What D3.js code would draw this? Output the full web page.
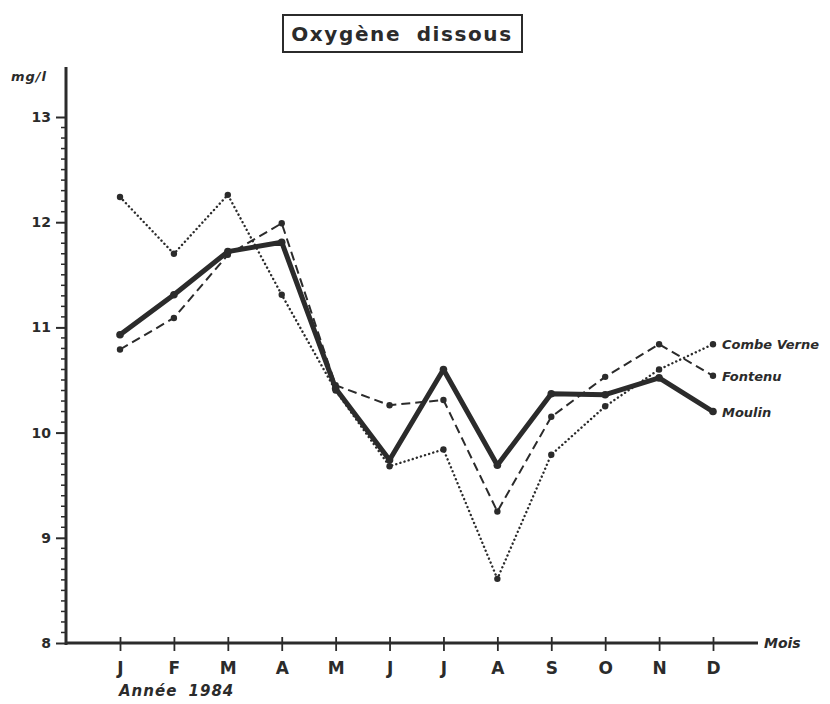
<!DOCTYPE html>
<html>
<head>
<meta charset="utf-8">
<script src="https://cdn.jsdelivr.net/npm/d3@7"></script>
<style>
  html, body { margin: 0; padding: 0; background: #fff; }
  svg { display: block; }
  text { fill: #2b2b2b; font-family: 'DejaVu Sans', sans-serif; }
</style>
</head>
<body>
<div id="chart"></div>
<script>
(function() {
  'use strict';

  // Month labels (Année 1984)
  const months = ['J', 'F', 'M', 'A', 'M', 'J', 'J', 'A', 'S', 'O', 'N', 'D'];
  const yTicks = [8, 9, 10, 11, 12, 13];

  // Dissolved oxygen, mg/l
  const combeVerne = [12.24, 11.70, 12.26, 11.31, 10.40, 9.68, 9.84, 8.61, 9.79, 10.25, 10.60, 10.84];
  const fontenu    = [10.79, 11.09, 11.69, 11.99, 10.45, 10.26, 10.31, 9.25, 10.15, 10.53, 10.84, 10.54];
  const moulin     = [10.93, 11.31, 11.72, 11.81, 10.42, 9.74, 10.60, 9.69, 10.37, 10.36, 10.52, 10.20];

  const seriesNames = ['Combe Verne', 'Fontenu', 'Moulin'];

  const ink = '#2b2b2b';
  const width = 830, height = 704;

  const svg = d3.select('#chart').append('svg')
    .attr('width', width)
    .attr('height', height);

  const x = d3.scalePoint()
    .domain(d3.range(months.length))
    .range([120, 713]);

  const y = d3.scaleLinear()
    .domain([8, 13])
    .range([643, 117]);

  // Title box
  svg.append('rect')
    .attr('x', 283).attr('y', 15)
    .attr('width', 239).attr('height', 37)
    .attr('fill', 'none')
    .attr('stroke', ink)
    .attr('stroke-width', 2);
  svg.append('text')
    .attr('x', 402).attr('y', 41)
    .attr('text-anchor', 'middle')
    .style('font-size', '20px')
    .style('font-weight', 'bold')
    .style('letter-spacing', '1.6px')
    .style('word-spacing', '7px')
    .text('Oxygène dissous');

  // Minor ticks every 0.1
  const minor = d3.range(80, 131).map(d => d / 10).filter(d => !yTicks.includes(d));
  svg.append('g')
    .selectAll('line')
    .data(minor)
    .enter()
    .append('line')
    .attr('x1', 61).attr('x2', 66)
    .attr('y1', d => y(d)).attr('y2', d => y(d))
    .attr('stroke', ink)
    .attr('stroke-width', 1.5);

  // Y axis
  const yAxis = d3.axisLeft(y)
    .tickValues(yTicks)
    .tickSize(10)
    .tickPadding(5)
    .tickFormat(d3.format('d'));
  const gy = svg.append('g')
    .attr('transform', 'translate(66,0)')
    .call(yAxis);
  gy.select('.domain').remove();
  gy.selectAll('.tick line').attr('stroke', ink).attr('stroke-width', 2);
  gy.selectAll('.tick text')
    .style('font-size', '14px')
    .style('font-weight', 'bold')
    .attr('fill', ink);

  svg.append('line')
    .attr('x1', 66).attr('x2', 66)
    .attr('y1', 67).attr('y2', 645)
    .attr('stroke', ink)
    .attr('stroke-width', 3);

  // X axis
  const xAxis = d3.axisBottom(x)
    .tickSizeInner(14)
    .tickSizeOuter(0)
    .tickPadding(6)
    .tickFormat(i => months[i]);
  const gx = svg.append('g')
    .attr('transform', 'translate(0,637)')
    .call(xAxis);
  gx.select('.domain').remove();
  gx.selectAll('.tick line').attr('stroke', ink).attr('stroke-width', 1.8);
  gx.selectAll('.tick text')
    .attr('dy', '1em')
    .style('font-size', '17px')
    .style('font-weight', 'bold')
    .attr('fill', ink);

  svg.append('line')
    .attr('x1', 65).attr('x2', 758)
    .attr('y1', 643).attr('y2', 643)
    .attr('stroke', ink)
    .attr('stroke-width', 3);

  // Axis captions
  svg.append('text')
    .attr('x', 11).attr('y', 81)
    .style('font-size', '13px')
    .style('font-weight', 'bold')
    .style('font-style', 'italic')
    .style('letter-spacing', '1px')
    .text('mg/l');
  svg.append('text')
    .attr('x', 764).attr('y', 648)
    .style('font-size', '14px')
    .style('font-weight', 'bold')
    .style('font-style', 'italic')
    .text('Mois');
  svg.append('text')
    .attr('x', 119).attr('y', 696)
    .style('font-size', '15px')
    .style('font-weight', 'bold')
    .style('font-style', 'italic')
    .style('letter-spacing', '1px')
    .style('word-spacing', '5px')
    .text('Année 1984');

  const line = d3.line()
    .x((d, i) => x(i))
    .y(d => y(d));

  function drawSeries(values, name, opts) {
    const g = svg.append('g').attr('class', 'series');
    g.append('path')
      .datum(values)
      .attr('d', line)
      .attr('fill', 'none')
      .attr('stroke', ink)
      .attr('stroke-width', opts.width)
      .attr('stroke-dasharray', opts.dash)
      .attr('stroke-linecap', opts.cap)
      .attr('stroke-linejoin', 'round');
    g.selectAll('circle')
      .data(values)
      .enter()
      .append('circle')
      .attr('cx', (d, i) => x(i))
      .attr('cy', d => y(d))
      .attr('r', opts.r)
      .attr('fill', ink);
    const last = values[values.length - 1];
    g.append('text')
      .attr('x', x(values.length - 1) + 9)
      .attr('y', y(last) + 5)
      .style('font-size', '13px')
      .style('font-weight', 'bold')
      .style('font-style', 'italic')
      .text(name);
  }

  drawSeries(combeVerne, seriesNames[0], { width: 2.4, dash: '0.1,4.2', cap: 'round', r: 3.2 });
  drawSeries(fontenu, seriesNames[1], { width: 2, dash: '9,5', cap: 'butt', r: 3.2 });
  drawSeries(moulin, seriesNames[2], { width: 5, dash: null, cap: 'round', r: 3.8 });
})();
</script>
</body>
</html>
